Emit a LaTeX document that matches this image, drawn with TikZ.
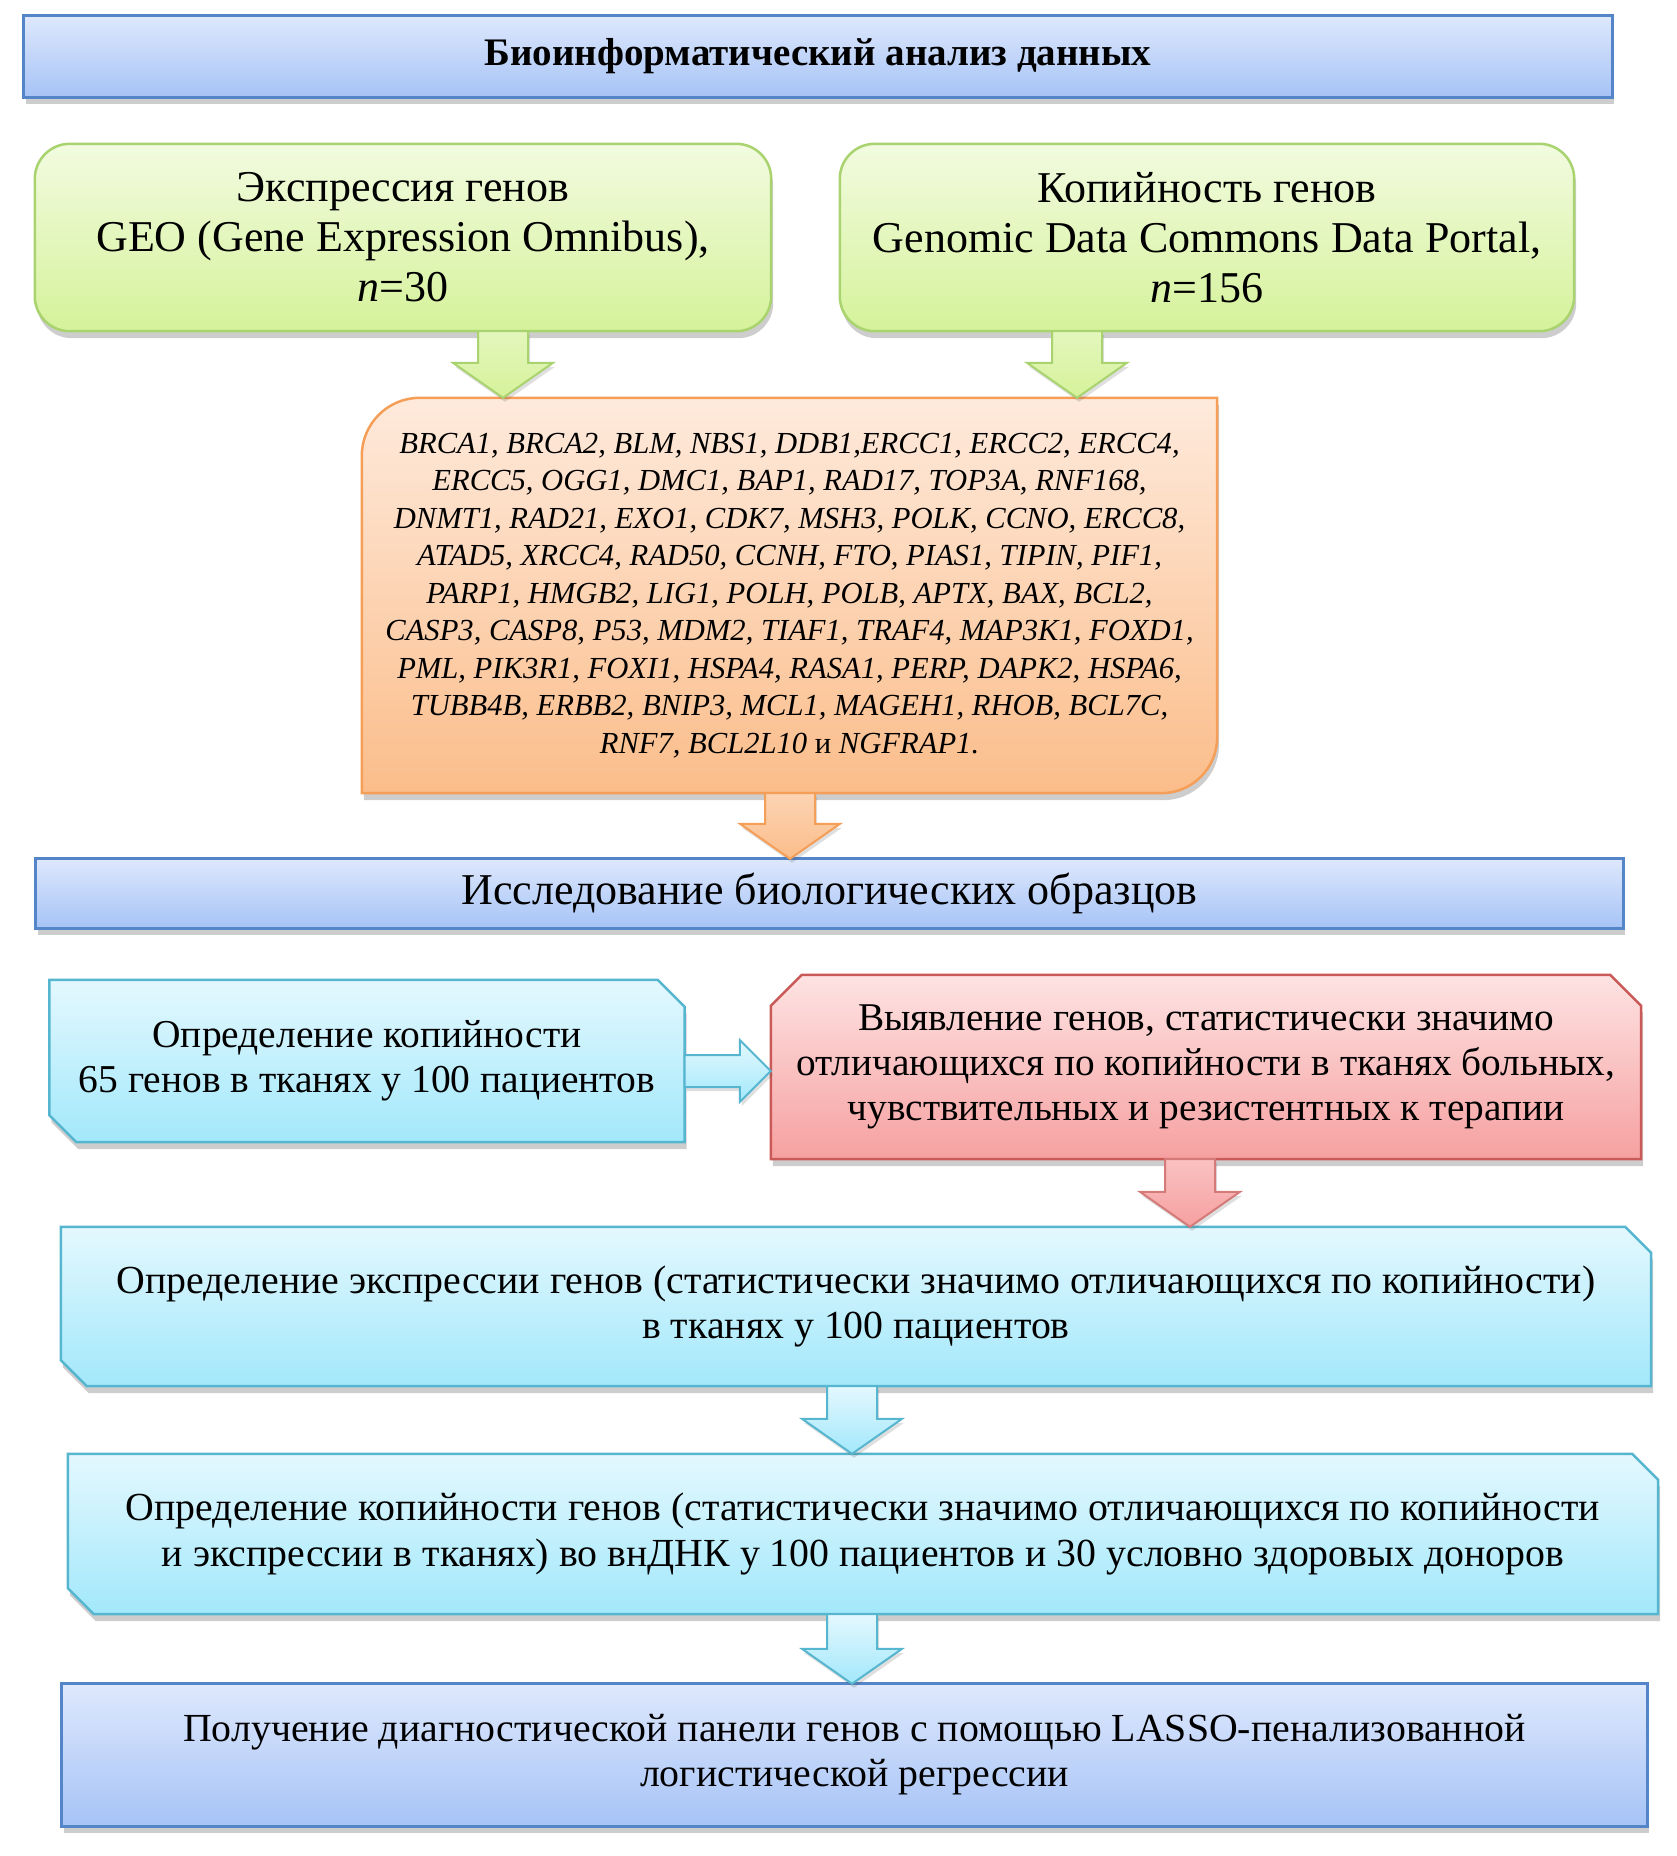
\documentclass[tikz,border=0pt]{standalone}
\usepackage{fontspec}
\setmainfont{Liberation Serif}
\usetikzlibrary{calc,shadows}
\pgfdeclarelayer{bg}
\pgfsetlayers{bg,main}
\definecolor{bluetop}{HTML}{DEE8FD}
\definecolor{bluebot}{HTML}{A6C3F6}
\definecolor{blueline}{HTML}{5585C9}
\definecolor{greentop}{HTML}{F2FBE0}
\definecolor{greenbot}{HTML}{D5F29A}
\definecolor{greenline}{HTML}{A9D36F}
\definecolor{orangetop}{HTML}{FEEADC}
\definecolor{orangebot}{HTML}{FBBD8A}
\definecolor{orangeline}{HTML}{F59E57}
\definecolor{cyantop}{HTML}{E4F8FE}
\definecolor{cyanbot}{HTML}{A2E8FB}
\definecolor{cyanline}{HTML}{56B6CF}
\definecolor{redtop}{HTML}{FEE3E3}
\definecolor{redbot}{HTML}{F6A0A0}
\definecolor{redline}{HTML}{C95A57}
\tikzset{
  shad/.style={drop shadow={shadow xshift=2pt,shadow yshift=-7pt,opacity=0.28,fill=black!70}},
  lshad/.style={drop shadow={shadow xshift=2pt,shadow yshift=-4pt,opacity=0.18,fill=black!70}},
  boxtext/.style={align=center,inner sep=0pt,font=\fontsize{40}{45}\selectfont},
  bluebox/.style={shad,top color=bluetop,bottom color=bluebot,draw=blueline,line width=3pt},
  greenbox/.style={shad,top color=greentop,bottom color=greenbot,draw=greenline,line width=2.5pt,rounded corners=35pt},
  orangebox/.style={shad,top color=orangetop,bottom color=orangebot,draw=orangeline,line width=2.5pt},
  cyanbox/.style={shad,top color=cyantop,bottom color=cyanbot,draw=cyanline,line width=2.5pt},
  redbox/.style={shad,top color=redtop,bottom color=redbot,draw=redline,line width=2.5pt},
  greenarrow/.style={lshad,top color=greentop!50!greenbot,bottom color=greenbot,draw=greenline,line width=2pt},
  orangearrow/.style={lshad,top color=orangetop!50!orangebot,bottom color=orangebot,draw=orangeline,line width=2pt},
  redarrow/.style={lshad,top color=redtop!50!redbot,bottom color=redbot,draw=redline!80,line width=2pt},
  cyanarrow/.style={lshad,top color=cyantop,bottom color=cyanbot,draw=cyanline,line width=2pt},
}
\newcommand{\arrowdown}[4]{%
  \path[#1] let \p1=(#3), \p2=(#4) in
    (#2pt-25pt,\y1) -- (#2pt-25pt,\y2+35pt) -- (#2pt-50pt,\y2+35pt) -- (#2pt,\y2)
    -- (#2pt+50pt,\y2+35pt) -- (#2pt+25pt,\y2+35pt) -- (#2pt+25pt,\y1) -- cycle;}
\begin{document}
\begin{tikzpicture}[x=1pt,y=1pt]
\useasboundingbox (0,0) rectangle (1677,-1856);
% text nodes
\node[boxtext,font=\fontsize{39}{44}\selectfont\bfseries,minimum width=1588,minimum height=81] (title) at (818,-56.5) {Биоинформатический анализ данных};
\node[boxtext,font=\fontsize{44}{50}\selectfont,minimum width=736,minimum height=187] (g1) at (403,-237.5)
  {Экспрессия генов\\GEO (Gene Expression Omnibus),\\\textit{n}=30};
\node[boxtext,font=\fontsize{44}{50}\selectfont,minimum width=734,minimum height=187] (g2) at (1207,-237.5)
  {Копийность генов\\Genomic Data Commons Data Portal,\\\textit{n}=156};
\node[boxtext,font=\fontsize{30.6}{37.5}\selectfont\itshape,minimum width=855,minimum height=395] (o) at (789.5,-595.5)
  {BRCA1, BRCA2, BLM, NBS1, DDB1,ERCC1, ERCC2, ERCC4,\\
   ERCC5, OGG1, DMC1, BAP1, RAD17, TOP3A, RNF168,\\
   DNMT1, RAD21, EXO1, CDK7, MSH3, POLK, CCNO, ERCC8,\\
   ATAD5, XRCC4, RAD50, CCNH, FTO, PIAS1, TIPIN, PIF1,\\
   PARP1, HMGB2, LIG1, POLH, POLB, APTX, BAX, BCL2,\\
   CASP3, CASP8, P53, MDM2, TIAF1, TRAF4, MAP3K1, FOXD1,\\
   PML, PIK3R1, FOXI1, HSPA4, RASA1, PERP, DAPK2, HSPA6,\\
   TUBB4B, ERBB2, BNIP3, MCL1, MAGEH1, RHOB, BCL7C,\\
   RNF7, BCL2L10 \textup{и} NGFRAP1.};
\node[boxtext,font=\fontsize{44}{46}\selectfont,minimum width=1587,minimum height=69] (study) at (829.5,-893.5) {Исследование биологических образцов};
\node[boxtext,font=\fontsize{39.5}{45}\selectfont,minimum width=635,minimum height=162] (c1) at (367,-1061)
  {Определение копийности\\65 генов в тканях у 100 пациентов};
\node[boxtext,font=\fontsize{39.3}{45}\selectfont,minimum width=870,minimum height=184] (r) at (1206,-1067)
  {Выявление генов, статистически значимо\\отличающихся по копийности в тканях больных,\\чувствительных и резистентных к терапии};
\node[boxtext,font=\fontsize{39.8}{45}\selectfont,minimum width=1590,minimum height=159] (c2) at (856,-1306.5)
  {Определение экспрессии генов (статистически значимо отличающихся по копийности)\\в тканях у 100 пациентов};
\node[boxtext,font=\fontsize{39.8}{46}\selectfont,minimum width=1590,minimum height=160] (c3) at (863,-1534)
  {Определение копийности генов (статистически значимо отличающихся по копийности\\и экспрессии в тканях) во внДНК у 100 пациентов и 30 условно здоровых доноров};
\node[boxtext,font=\fontsize{39.8}{45}\selectfont,minimum width=1585,minimum height=142] (bot) at (854.5,-1755)
  {Получение диагностической панели генов с помощью LASSO-пенализованной\\логистической регрессии};
% shapes
\begin{pgfonlayer}{bg}
\path[bluebox] (title.north west) rectangle (title.south east);
\path[greenbox] (g1.north west) rectangle (g1.south east);
\path[greenbox] (g2.north west) rectangle (g2.south east);
\path[orangebox] (o.south west) -- ($(o.north west)+(0,-58)$) arc[start angle=180,end angle=90,radius=58]
  -- (o.north east) -- ($(o.south east)+(0,56)$) arc[start angle=0,end angle=-90,radius=56] -- cycle;
\path[bluebox] (study.north west) rectangle (study.south east);
\path[cyanbox] (c1.north west) -- ($(c1.north east)+(-27,0)$) -- ($(c1.north east)+(0,-27)$) -- (c1.south east)
  -- ($(c1.south west)+(27,0)$) -- ($(c1.south west)+(0,27)$) -- cycle;
\path[redbox] (r.south west) -- ($(r.north west)+(0,-31)$) -- ($(r.north west)+(31,0)$) -- ($(r.north east)+(-31,0)$)
  -- ($(r.north east)+(0,-31)$) -- (r.south east) -- cycle;
\path[cyanbox] (c2.north west) -- ($(c2.north east)+(-26,0)$) -- ($(c2.north east)+(0,-26)$) -- (c2.south east)
  -- ($(c2.south west)+(26,0)$) -- ($(c2.south west)+(0,26)$) -- cycle;
\path[cyanbox] (c3.north west) -- ($(c3.north east)+(-26,0)$) -- ($(c3.north east)+(0,-26)$) -- (c3.south east)
  -- ($(c3.south west)+(26,0)$) -- ($(c3.south west)+(0,26)$) -- cycle;
\path[bluebox] (bot.north west) rectangle (bot.south east);
% arrows
\arrowdown{greenarrow}{503}{g1.south}{o.north}
\arrowdown{greenarrow}{1077}{g2.south}{o.north}
\arrowdown{orangearrow}{790}{o.south}{study.north}
\arrowdown{redarrow}{1190}{r.south}{c2.north}
\arrowdown{cyanarrow}{852}{c2.south}{c3.north}
\arrowdown{cyanarrow}{852}{c3.south}{bot.north}
\path[cyanarrow] let \p1=(c1.east), \p2=(r.west) in
  (\x1,-1055pt) -- (\x2-31pt,-1055pt) -- (\x2-31pt,-1040pt) -- (\x2,-1071pt) -- (\x2-31pt,-1102pt)
  -- (\x2-31pt,-1087pt) -- (\x1,-1087pt) -- cycle;
\end{pgfonlayer}
\end{tikzpicture}
\end{document}
